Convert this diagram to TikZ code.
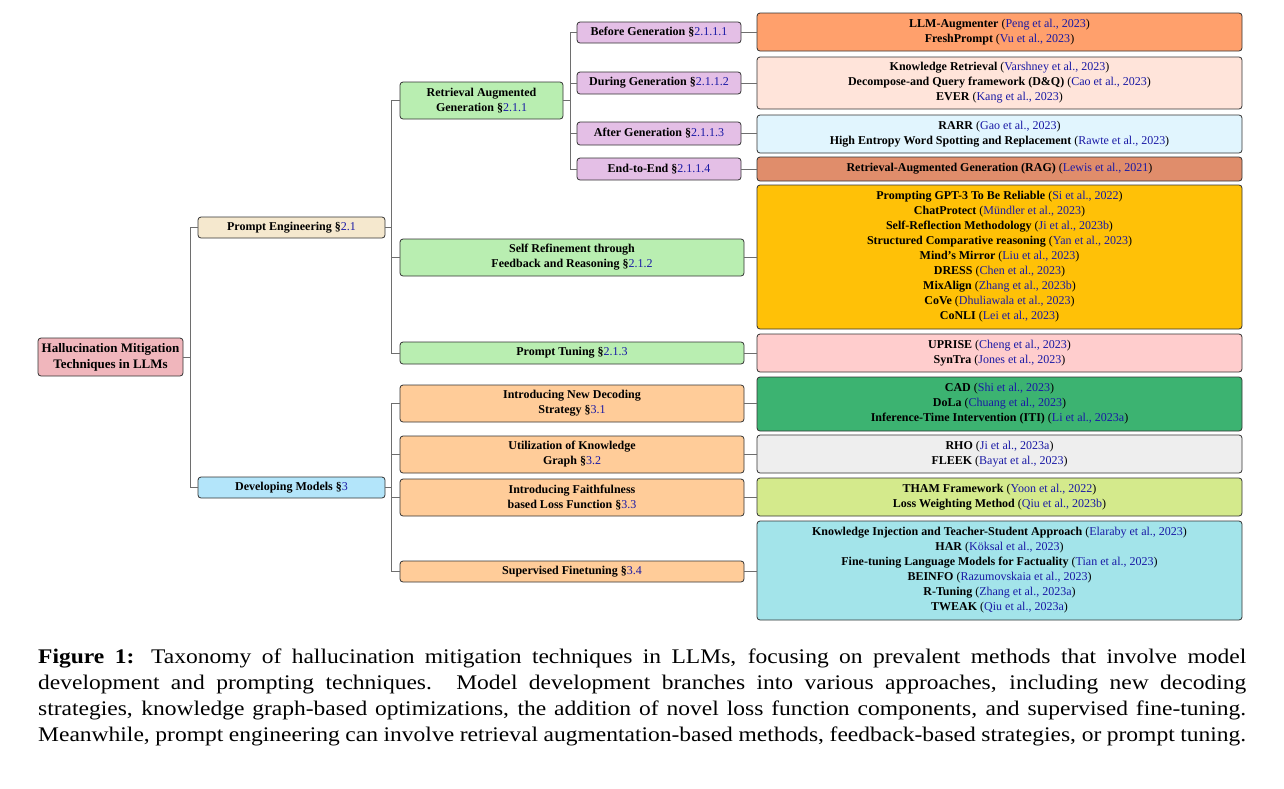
\documentclass[tikz,border=0pt]{standalone}
\usepackage{fontspec}
\setmainfont{Liberation Serif}
\newfontfamily\capfont[FakeStretch=1.13]{Liberation Serif}
\definecolor{citeblue}{RGB}{25,25,165}
\definecolor{edgegray}{RGB}{110,110,110}
\definecolor{rootpink}{RGB}{240,182,188}
\definecolor{pebeige}{RGB}{245,232,206}
\definecolor{dmblue}{RGB}{179,229,250}
\definecolor{midgreen}{RGB}{185,238,177}
\definecolor{midorange}{RGB}{255,204,153}
\definecolor{midpurple}{RGB}{228,191,230}
\definecolor{lfa}{RGB}{255,160,108}
\definecolor{lfb}{RGB}{255,228,218}
\definecolor{lfc}{RGB}{225,245,254}
\definecolor{lfd}{RGB}{224,141,107}
\definecolor{lfe}{RGB}{255,193,7}
\definecolor{lff}{RGB}{255,205,205}
\definecolor{lfg}{RGB}{60,179,113}
\definecolor{lfh}{RGB}{238,238,238}
\definecolor{lfi}{RGB}{212,234,140}
\definecolor{lfj}{RGB}{163,228,234}
\newcommand{\mycite}[1]{(\textcolor{citeblue}{\mdseries #1})}
\newcommand{\mysec}[1]{\textbf{\S}\textcolor{citeblue}{\mdseries #1}}
\tikzset{
  box/.style={draw=black!80, line width=0.8pt, rounded corners=3pt, align=center, inner sep=0pt,
    font=\fontsize{12}{15}\selectfont},
  midbox/.style={box, font=\fontsize{12}{15}\selectfont\bfseries},
  leafbox/.style={box, minimum width=485pt},
  conn/.style={draw=edgegray, line width=0.9pt},
}
\begin{document}
\begin{tikzpicture}[x=1pt,y=-1pt]
\useasboundingbox (0,0) rectangle (1284,788);
% root and level 1
\node[box, fill=rootpink, minimum width=145pt, minimum height=38pt, font=\fontsize{13}{16}\selectfont\bfseries] (root) at (110.5,357) {Hallucination Mitigation\\Techniques in LLMs};
\node[midbox, fill=pebeige, minimum width=187pt, minimum height=21pt] (pe) at (291.5,227.5) {Prompt Engineering \mysec{2.1}};
\node[midbox, fill=dmblue, minimum width=187pt, minimum height=21pt] (dm) at (291.5,487.5) {Developing Models \mysec{3}};
% level 2
\node[midbox, fill=midgreen, minimum width=163pt, minimum height=37pt] (rag) at (481.5,100.5) {Retrieval Augmented\\Generation \mysec{2.1.1}};
\node[midbox, fill=midgreen, minimum width=344pt, minimum height=37pt] (sr) at (572,257.5) {Self Refinement through\\Feedback and Reasoning \mysec{2.1.2}};
\node[midbox, fill=midgreen, minimum width=344pt, minimum height=22pt] (pt) at (572,353) {Prompt Tuning \mysec{2.1.3}};
\node[midbox, fill=midorange, minimum width=344pt, minimum height=37pt] (nd) at (572,403.5) {Introducing New Decoding\\Strategy \mysec{3.1}};
\node[midbox, fill=midorange, minimum width=344pt, minimum height=37pt] (kg) at (572,454.5) {Utilization of Knowledge\\Graph \mysec{3.2}};
\node[midbox, fill=midorange, minimum width=344pt, minimum height=37pt] (fl) at (572,497.5) {Introducing Faithfulness\\based Loss Function \mysec{3.3}};
\node[midbox, fill=midorange, minimum width=344pt, minimum height=21pt] (sf) at (572,571.5) {Supervised Finetuning \mysec{3.4}};
% level 3
\node[midbox, fill=midpurple, minimum width=164pt, minimum height=21pt] (bg) at (659,32.5) {Before Generation \mysec{2.1.1.1}};
\node[midbox, fill=midpurple, minimum width=164pt, minimum height=22pt] (dg) at (659,83) {During Generation \mysec{2.1.1.2}};
\node[midbox, fill=midpurple, minimum width=164pt, minimum height=23pt] (ag) at (659,133.5) {After Generation \mysec{2.1.1.3}};
\node[midbox, fill=midpurple, minimum width=164pt, minimum height=22pt] (ee) at (659,169) {End-to-End \mysec{2.1.1.4}};
% leaves
\node[leafbox, fill=lfa, minimum height=38pt] (l1) at (999.5,32) {\textbf{LLM-Augmenter} \mycite{Peng et al., 2023}\\\textbf{FreshPrompt} \mycite{Vu et al., 2023}};
\node[leafbox, fill=lfb, minimum height=52pt] (l2) at (999.5,83) {\textbf{Knowledge Retrieval} \mycite{Varshney et al., 2023}\\\textbf{Decompose-and Query framework (D\&Q)} \mycite{Cao et al., 2023}\\\textbf{EVER} \mycite{Kang et al., 2023}};
\node[leafbox, fill=lfc, minimum height=38pt] (l3) at (999.5,134) {\textbf{RARR} \mycite{Gao et al., 2023}\\\textbf{High Entropy Word Spotting and Replacement} \mycite{Rawte et al., 2023}};
\node[leafbox, fill=lfd, minimum height=24pt] (l4) at (999.5,169) {\textbf{Retrieval-Augmented Generation (RAG)} \mycite{Lewis et al., 2021}};
\node[leafbox, fill=lfe, minimum height=144pt] (l5) at (999.5,257) {\textbf{Prompting GPT-3 To Be Reliable} \mycite{Si et al., 2022}\\\textbf{ChatProtect} \mycite{Mündler et al., 2023}\\\textbf{Self-Reflection Methodology} \mycite{Ji et al., 2023b}\\\textbf{Structured Comparative reasoning} \mycite{Yan et al., 2023}\\\textbf{Mind’s Mirror} \mycite{Liu et al., 2023}\\\textbf{DRESS} \mycite{Chen et al., 2023}\\\textbf{MixAlign} \mycite{Zhang et al., 2023b}\\\textbf{CoVe} \mycite{Dhuliawala et al., 2023}\\\textbf{CoNLI} \mycite{Lei et al., 2023}};
\node[leafbox, fill=lff, minimum height=38pt] (l6) at (999.5,353) {\textbf{UPRISE} \mycite{Cheng et al., 2023}\\\textbf{SynTra} \mycite{Jones et al., 2023}};
\node[leafbox, fill=lfg, minimum height=54pt] (l7) at (999.5,404) {\textbf{CAD} \mycite{Shi et al., 2023}\\\textbf{DoLa} \mycite{Chuang et al., 2023}\\\textbf{Inference-Time Intervention (ITI)} \mycite{Li et al., 2023a}};
\node[leafbox, fill=lfh, minimum height=38pt] (l8) at (999.5,454) {\textbf{RHO} \mycite{Ji et al., 2023a}\\\textbf{FLEEK} \mycite{Bayat et al., 2023}};
\node[leafbox, fill=lfi, minimum height=38pt] (l9) at (999.5,497) {\textbf{THAM Framework} \mycite{Yoon et al., 2022}\\\textbf{Loss Weighting Method} \mycite{Qiu et al., 2023b}};
\node[leafbox, fill=lfj, minimum height=99pt] (l10) at (999.5,570.5) {\textbf{Knowledge Injection and Teacher-Student Approach} \mycite{Elaraby et al., 2023}\\\textbf{HAR} \mycite{Köksal et al., 2023}\\\textbf{Fine-tuning Language Models for Factuality} \mycite{Tian et al., 2023}\\\textbf{BEINFO} \mycite{Razumovskaia et al., 2023}\\\textbf{R-Tuning} \mycite{Zhang et al., 2023a}\\\textbf{TWEAK} \mycite{Qiu et al., 2023a}};
% connectors
\foreach \c in {pe,dm} \draw[conn] (root.east) -- ++(7,0) |- (\c.west);
\foreach \c in {rag,sr,pt} \draw[conn] (pe.east) -- ++(6,0) |- (\c.west);
\foreach \c in {nd,kg,fl,sf} \draw[conn] (dm.east) -- ++(6,0) |- (\c.west);
\foreach \c in {bg,dg,ag,ee} \draw[conn] (rag.east) -- ++(7,0) |- (\c.west);
\foreach \a/\b in {bg/l1,dg/l2,ag/l3,ee/l4,sr/l5,pt/l6,nd/l7,kg/l8,fl/l9,sf/l10} \draw[conn] (\a.east) -- (\a.east -| \b.west);
% caption
\node[anchor=base west, inner sep=0pt, font=\capfont\fontsize{20.8}{26.3}\selectfont] (cap) at (38,663) {\parbox[t]{1208pt}{\parfillskip=0pt\textbf{Figure 1:} Taxonomy of hallucination mitigation techniques in LLMs, focusing on prevalent methods that involve model\linebreak development and prompting techniques. Model development branches into various approaches, including new decoding\linebreak strategies, knowledge graph-based optimizations, the addition of novel loss function components, and supervised fine-tuning.\linebreak Meanwhile, prompt engineering can involve retrieval augmentation-based methods, feedback-based strategies, or prompt tuning.\par}};
\end{tikzpicture}
\end{document}
